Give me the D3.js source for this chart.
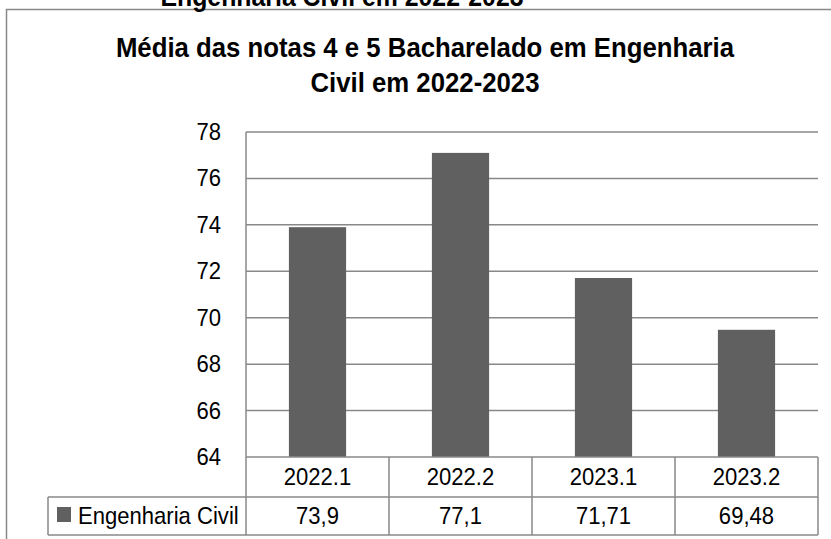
<!DOCTYPE html>
<html>
<head>
<meta charset="utf-8">
<script src="https://cdn.jsdelivr.net/npm/d3@7"></script>
<style>
  body { margin: 0; background: #fff; }
  text { font-family: "Liberation Sans", Arial, sans-serif; fill: #000; }
</style>
</head>
<body>
<div id="chart"></div>
<script>
// data
const categories = ["2022.1", "2022.2", "2023.1", "2023.2"]
const values = [73.9, 77.1, 71.71, 69.48]
const valueLabels = ["73,9", "77,1", "71,71", "69,48"]
const seriesName = "Engenharia Civil"
const yTicks = [64, 66, 68, 70, 72, 74, 76, 78]

const W = 831, H = 539
const barColor = "#606060"
const lineColor = "#888888"
// the original font is a narrow one, so squeeze Liberation Sans a bit
const sx = 0.92

const svg = d3.select("#chart").append("svg")
    .attr("width", W)
    .attr("height", H)

// puts a text at real x position with the horizontal squeeze
function narrow(sel, xf) {
  return sel.attr("transform", `scale(${sx},1)`)
    .attr("x", (d, i) => (typeof xf === "function" ? xf(d, i) : xf) / sx)
}

// plot area
const plot = {left: 246, right: 818, top: 132, bottom: 457}
const rowH1 = 40, rowH2 = 38
const legendLeft = 48

// outer frame (cut off on the right and bottom)
svg.append("rect")
    .attr("x", 6.5).attr("y", 9.5)
    .attr("width", 840).attr("height", 560)
    .attr("fill", "none")
    .attr("stroke", lineColor)
    .attr("stroke-width", 1.5)

// title cut off at the top (from the figure above)
svg.append("text")
    .call(narrow, 342)
    .attr("y", 6)
    .attr("text-anchor", "middle")
    .style("font-size", "27px")
    .style("font-weight", "bold")
    .text("Engenharia Civil em 2022-2023")

// title
svg.append("text")
    .call(narrow, 425)
    .attr("y", 57)
    .attr("text-anchor", "middle")
    .style("font-size", "28px")
    .style("font-weight", "bold")
    .text("Média das notas 4 e 5 Bacharelado em Engenharia")
svg.append("text")
    .call(narrow, 425)
    .attr("y", 92)
    .attr("text-anchor", "middle")
    .style("font-size", "28px")
    .style("font-weight", "bold")
    .text("Civil em 2022-2023")

// scales
const x = d3.scaleBand()
    .domain(categories)
    .range([plot.left, plot.right])
    .padding(0)

const y = d3.scaleLinear()
    .domain([64, 78])
    .range([plot.bottom, plot.top])

// gridlines
svg.append("g")
  .selectAll("line")
  .data(yTicks.slice(1))
  .join("line")
    .attr("x1", plot.left).attr("x2", plot.right)
    .attr("y1", d => y(d)).attr("y2", d => y(d))
    .attr("stroke", lineColor)
    .attr("stroke-width", 1.5)

// y axis labels
svg.append("g")
  .selectAll("text")
  .data(yTicks)
  .join("text")
    .call(narrow, 221)
    .attr("y", d => y(d) + 8)
    .attr("text-anchor", "end")
    .style("font-size", "24px")
    .text(d => d)

// bars
const barW = x.bandwidth() * 0.4
svg.append("g")
  .selectAll("rect")
  .data(values)
  .join("rect")
    .attr("x", (d, i) => x(categories[i]) + (x.bandwidth() - barW) / 2)
    .attr("y", d => y(d))
    .attr("width", barW)
    .attr("height", d => y(64) - y(d))
    .attr("fill", barColor)

// data table
const t = svg.append("g")
    .attr("stroke", lineColor)
    .attr("stroke-width", 1.5)
    .attr("fill", "none")

const rowTop1 = plot.bottom, rowTop2 = plot.bottom + rowH1, rowBot = rowTop2 + rowH2

// horizontal lines
t.append("line").attr("x1", plot.left).attr("x2", plot.right).attr("y1", rowTop1).attr("y2", rowTop1)
t.append("line").attr("x1", legendLeft).attr("x2", plot.right).attr("y1", rowTop2).attr("y2", rowTop2)
t.append("line").attr("x1", legendLeft).attr("x2", plot.right).attr("y1", rowBot).attr("y2", rowBot)
// left axis line, running down through the table
t.append("line").attr("x1", plot.left).attr("x2", plot.left).attr("y1", plot.top).attr("y2", rowBot)
t.append("line").attr("x1", legendLeft).attr("x2", legendLeft).attr("y1", rowTop2).attr("y2", rowBot)
// column dividers
t.selectAll("line.col")
  .data(categories)
  .join("line")
    .attr("class", "col")
    .attr("x1", d => x(d) + x.bandwidth()).attr("x2", d => x(d) + x.bandwidth())
    .attr("y1", rowTop1).attr("y2", rowBot)

// category labels
svg.append("g")
  .selectAll("text")
  .data(categories)
  .join("text")
    .call(narrow, d => x(d) + x.bandwidth() / 2)
    .attr("y", rowTop1 + 28)
    .attr("text-anchor", "middle")
    .style("font-size", "24px")
    .text(d => d)

// value labels
svg.append("g")
  .selectAll("text")
  .data(valueLabels)
  .join("text")
    .call(narrow, (d, i) => x(categories[i]) + x.bandwidth() / 2)
    .attr("y", rowTop2 + 27)
    .attr("text-anchor", "middle")
    .style("font-size", "24px")
    .text(d => d)

// legend key
svg.append("rect")
    .attr("x", 57).attr("y", rowTop2 + 10)
    .attr("width", 14).attr("height", 15)
    .attr("fill", barColor)
svg.append("text")
    .call(narrow, 78)
    .attr("y", rowTop2 + 27)
    .style("font-size", "24px")
    .text(seriesName)
</script>
</body>
</html>
